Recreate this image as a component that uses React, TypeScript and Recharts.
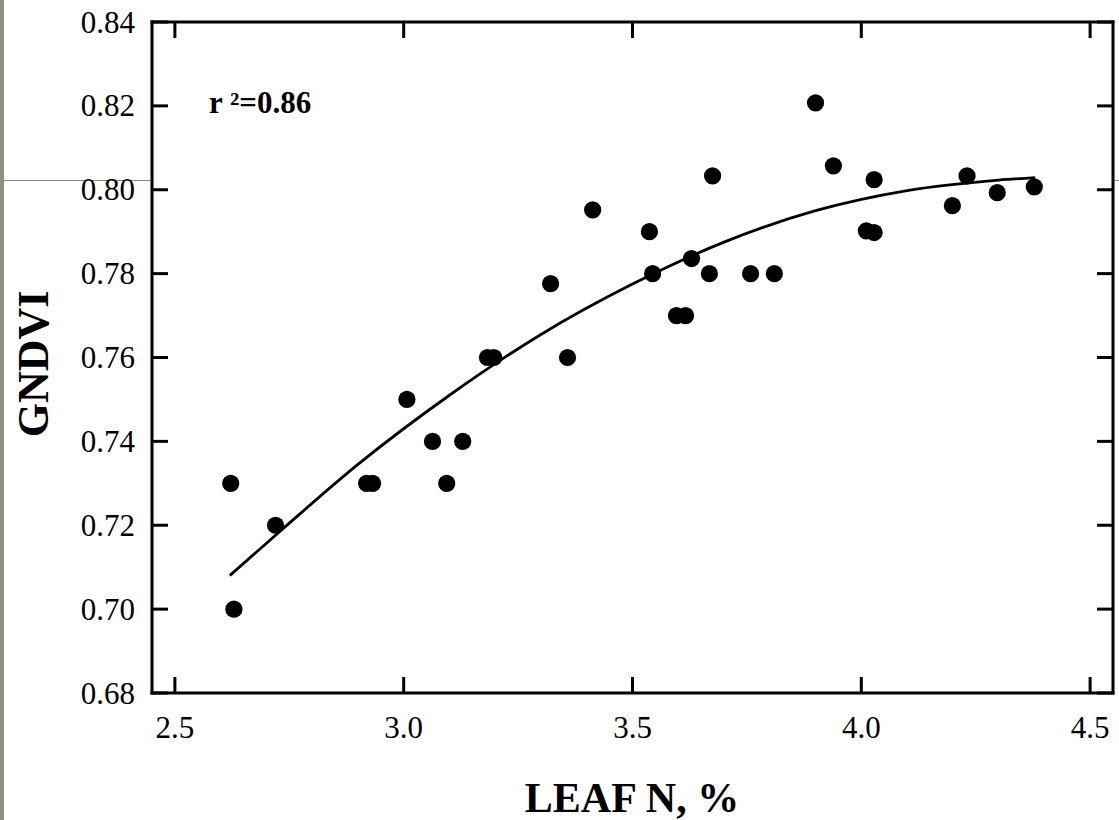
import { ComposedChart, Line, Scatter, XAxis, YAxis } from "recharts";

// measured points: leaf N (%) vs GNDVI
const leafN = [
  2.622, 2.629, 2.72, 2.919, 2.932, 3.007, 3.063, 3.094, 3.129, 3.183, 3.197,
  3.321, 3.358, 3.413, 3.537, 3.544, 3.596, 3.616, 3.629, 3.668, 3.675, 3.758,
  3.81, 3.9, 3.939, 4.011, 4.028, 4.028, 4.199, 4.231, 4.297, 4.378,
];
const gndvi = [
  0.73, 0.7, 0.72, 0.73, 0.73, 0.75, 0.74, 0.73, 0.74, 0.76, 0.76,
  0.7776, 0.76, 0.7952, 0.79, 0.78, 0.77, 0.77, 0.7836, 0.78, 0.8033, 0.78,
  0.78, 0.8207, 0.8057, 0.7902, 0.7898, 0.8024, 0.7962, 0.8033, 0.7993, 0.8007,
];

// fitted curve
const fitX = [2.62, 2.75, 2.9, 3.1, 3.3, 3.5, 3.7, 3.9, 4.1, 4.3, 4.38];
const fitY = [0.708, 0.7205, 0.7345, 0.751, 0.7655, 0.7775, 0.7875, 0.795, 0.7998, 0.8023, 0.8029];

const xTicks = [2.5, 3.0, 3.5, 4.0, 4.5];
const yTicks = [0.68, 0.7, 0.72, 0.74, 0.76, 0.78, 0.8, 0.82, 0.84];

const points = leafN.map((x, i) => ({ x, y: gndvi[i] }));
const fit = fitX.map((x, i) => ({ x, y: fitY[i] }));

const SERIF = "'Liberation Serif', 'Times New Roman', serif";
const TICK_LEN = 16;
const W = 1119;
const H = 820;

function BottomTick({ x, y, payload }: any) {
  return (
    <g>
      <line x1={x} y1={y} x2={x} y2={y - TICK_LEN} stroke="#000" strokeWidth={3} />
      <text
        x={x}
        y={y + 34}
        textAnchor="middle"
        dominantBaseline="central"
        fontSize={31}
        fontFamily={SERIF}
        fill="#000"
      >
        {Number(payload.value).toFixed(1)}
      </text>
    </g>
  );
}

function TopTick({ x, y }: any) {
  return <line x1={x} y1={y} x2={x} y2={y + TICK_LEN} stroke="#000" strokeWidth={3} />;
}

function LeftTick({ x, y, payload }: any) {
  return (
    <g>
      <line x1={x} y1={y} x2={x + TICK_LEN} y2={y} stroke="#000" strokeWidth={3} />
      <text
        x={x - 17}
        y={y}
        textAnchor="end"
        dominantBaseline="central"
        fontSize={31}
        fontFamily={SERIF}
        fill="#000"
      >
        {Number(payload.value).toFixed(2)}
      </text>
    </g>
  );
}

function RightTick({ x, y }: any) {
  return <line x1={x} y1={y} x2={x - TICK_LEN} y2={y} stroke="#000" strokeWidth={3} />;
}

function Dot({ cx, cy }: any) {
  return <circle cx={cx} cy={cy} r={8.6} fill="#000" />;
}

const frame = { stroke: "#000", strokeWidth: 3, strokeLinecap: "square" as const };

export default function App() {
  return (
    <div style={{ position: "fixed", left: 0, top: 0, width: W, height: H, background: "#fff" }}>
      {/* scan artefacts: grey strip and stray rule */}
      <div style={{ position: "absolute", left: 0, top: 0, width: 4, height: H, background: "#8d9084" }} />
      <div style={{ position: "absolute", left: 4, top: 180, width: 147, height: 1, background: "#85877d" }} />
      <div style={{ position: "absolute", left: 1115, top: 180, width: 4, height: 1, background: "#85877d" }} />

      <div style={{ position: "absolute", left: 0, top: 0 }}>
        <ComposedChart
          width={W}
          height={H}
          margin={{ top: 21, right: 5, bottom: 126, left: 151 }}
        >
          <XAxis
            xAxisId="b"
            type="number"
            dataKey="x"
            domain={[2.45, 4.55]}
            ticks={xTicks}
            allowDataOverflow
            height={1}
            tickSize={0}
            tickMargin={0}
            tickLine={false}
            axisLine={frame}
            tick={<BottomTick />}
            interval={0}
          />
          <XAxis
            xAxisId="t"
            orientation="top"
            type="number"
            dataKey="x"
            domain={[2.45, 4.55]}
            ticks={xTicks}
            allowDataOverflow
            height={1}
            tickSize={0}
            tickMargin={0}
            tickLine={false}
            axisLine={frame}
            tick={<TopTick />}
            interval={0}
          />
          <YAxis
            yAxisId="l"
            type="number"
            domain={[0.68, 0.84]}
            ticks={yTicks}
            allowDataOverflow
            width={1}
            tickSize={0}
            tickMargin={0}
            tickLine={false}
            axisLine={frame}
            tick={<LeftTick />}
            interval={0}
          />
          <YAxis
            yAxisId="r"
            orientation="right"
            type="number"
            domain={[0.68, 0.84]}
            ticks={yTicks}
            allowDataOverflow
            width={1}
            tickSize={0}
            tickMargin={0}
            tickLine={false}
            axisLine={frame}
            tick={<RightTick />}
            interval={0}
          />
          <Line
            xAxisId="b"
            yAxisId="l"
            data={fit}
            dataKey="y"
            type="monotone"
            stroke="#000"
            strokeWidth={2.8}
            dot={false}
            activeDot={false}
            isAnimationActive={false}
          />
          <Scatter
            xAxisId="b"
            yAxisId="l"
            data={points}
            dataKey="y"
            shape={<Dot />}
            isAnimationActive={false}
          />
        </ComposedChart>
      </div>

      <svg
        width={W}
        height={H}
        style={{ position: "absolute", left: 0, top: 0, pointerEvents: "none" }}
      >
        <text x={209} y={113} fontSize={31} fontWeight="bold" fontFamily={SERIF} fill="#000">
          r ²=0.86
        </text>
        <text
          x={632}
          y={812}
          textAnchor="middle"
          fontSize={42}
          fontWeight="bold"
          fontFamily={SERIF}
          fill="#000"
        >
          LEAF N, %
        </text>
        <text
          x={48}
          y={364}
          transform="rotate(-90 48 364)"
          textAnchor="middle"
          fontSize={44}
          fontWeight="bold"
          fontFamily={SERIF}
          fill="#000"
        >
          GNDVI
        </text>
      </svg>
    </div>
  );
}
